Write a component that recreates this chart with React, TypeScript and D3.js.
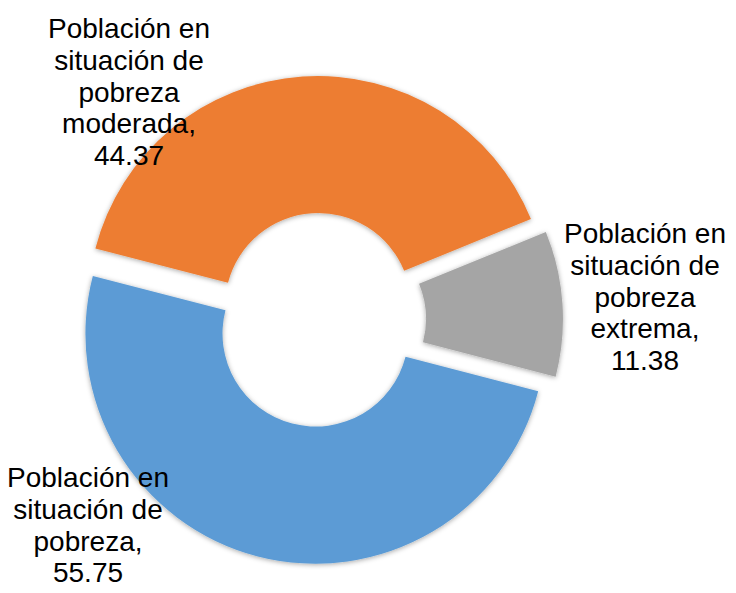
import React from "react";
import * as d3 from "d3";

const categories = [
  "Población en situación de pobreza",
  "Población en situación de pobreza moderada",
  "Población en situación de pobreza extrema",
];
const values = [55.75, 44.37, 11.38];
const labelLines = [
  ["Población en", "situación de", "pobreza,", "55.75"],
  ["Población en", "situación de", "pobreza", "moderada,", "44.37"],
  ["Población en", "situación de", "pobreza", "extrema,", "11.38"],
];
const colors = ["#5B9BD5", "#ED7D31", "#A5A5A5"];

const W = 736;
const H = 593;
const CX = 319;
const CY = 320;
const R_OUT = 230;
const R_IN = 93;
const EXPLODE = 14;
const START_DEG = 104.5;
const FONT = 28;
const LINE_H = 31.8;
// label anchor: center x and first baseline y
const labelAnchors = [
  { x: 88, y: 487 },
  { x: 129, y: 38 },
  { x: 645, y: 243 },
];

export default function App() {
  const start = (START_DEG * Math.PI) / 180;
  const pie = d3
    .pie<number>()
    .sort(null)
    .value((d) => d)
    .startAngle(start)
    .endAngle(start + 2 * Math.PI);
  const arcs = pie(values);
  const arc = d3.arc<d3.PieArcDatum<number>>().innerRadius(R_IN).outerRadius(R_OUT);

  return (
    <svg
      width={W}
      height={H}
      style={{ position: "absolute", left: 0, top: 0, background: "#fff" }}
      fontFamily="'Liberation Sans', Arial, sans-serif"
    >
      <defs>
        <filter id="sh" x="-20%" y="-20%" width="140%" height="140%">
          <feDropShadow dx="0" dy="1" stdDeviation="2.5" floodColor="#000" floodOpacity="0.35" />
        </filter>
      </defs>
      <g transform={`translate(${CX},${CY})`}>
        {arcs.map((a, i) => {
          const mid = (a.startAngle + a.endAngle) / 2;
          const dx = Math.sin(mid) * EXPLODE;
          const dy = -Math.cos(mid) * EXPLODE;
          return (
            <path
              key={categories[i]}
              d={arc(a) || ""}
              fill={colors[i]}
              transform={`translate(${dx},${dy})`}
              filter="url(#sh)"
            />
          );
        })}
      </g>
      {labelLines.map((lines, i) => (
        <text
          key={i}
          x={labelAnchors[i].x}
          y={labelAnchors[i].y}
          textAnchor="middle"
          fontSize={FONT}
          fill="#000"
        >
          {lines.map((l, j) => (
            <tspan key={j} x={labelAnchors[i].x} y={labelAnchors[i].y + j * LINE_H}>
              {l}
            </tspan>
          ))}
        </text>
      ))}
    </svg>
  );
}
